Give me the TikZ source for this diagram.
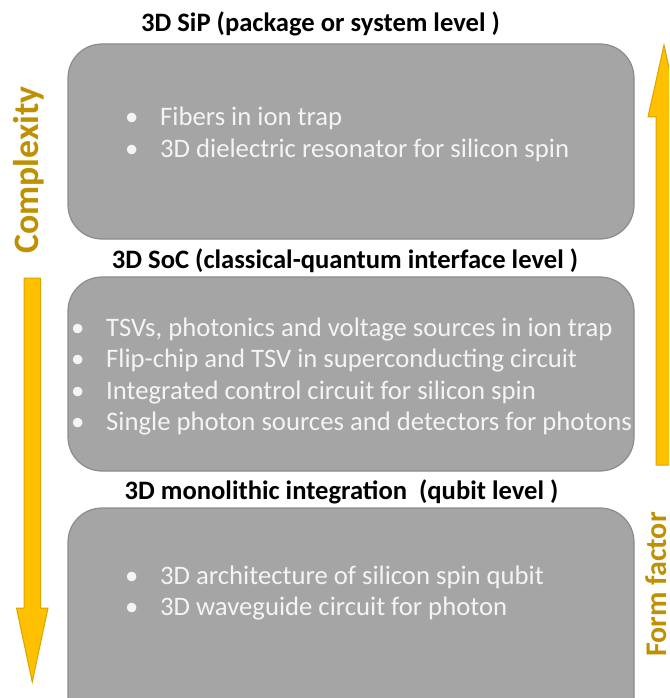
\documentclass[tikz,border=0pt]{standalone}
\usepackage{fontspec}
\setmainfont{Carlito}
\definecolor{panelfill}{HTML}{A5A5A5}
\definecolor{paneledge}{HTML}{8C8C8C}
\definecolor{itemtext}{HTML}{F4F4F4}
\definecolor{arrowfill}{HTML}{FFC000}
\definecolor{arrowedge}{HTML}{D9A400}
\definecolor{axisgold}{HTML}{BF9000}
\tikzset{
  panel/.style={draw=paneledge, fill=panelfill, line width=1.2pt,
    rounded corners=34pt, minimum width=566pt, inner sep=0pt},
  level/.style={font=\fontsize{26.6}{31}\selectfont\bfseries, anchor=base, inner sep=0pt},
  item/.style={font=\fontsize{26.7}{31}\selectfont, text=itemtext, anchor=base west, inner sep=0pt},
  axis/.style={font=\bfseries, text=axisgold, rotate=90, inner sep=0pt},
  bigarrow/.style={fill=arrowfill, draw=arrowedge, line width=1pt, line join=miter},
}
\begin{document}
\begin{tikzpicture}[x=1pt,y=-1pt]
\useasboundingbox (0,0) rectangle (669,698);
\clip (0,0) rectangle (669,698);

% the three integration levels
\node[panel, minimum height=195pt] (sip) at (351,141.5) {};
\node[panel, minimum height=194pt] (soc) at (351,374) {};
\node[panel, minimum height=236pt] (mono) at (351,626) {};

\node[level] (sipT) at (320.5,32) {3D SiP (package or system level )};
\node[level] (socT) at (345,268) {3D SoC (classical-quantum interface level )};
\node[level] (monoT) at (341.5,499) {3D monolithic integration\ \ (qubit level )};

% package / system level
\node[item] (b11) at (125,125.5) {•};
\node[item] (t11) at (160,125.5) {Fibers in ion trap};
\node[item] (b12) at (125,157.5) {•};
\node[item] (t12) at (160,157.5) {3D dielectric resonator for silicon spin};

% classical-quantum interface level
\node[item] (b21) at (71,336) {•};
\node[item] (t21) at (106,336) {TSVs, photonics and voltage sources in ion trap};
\node[item] (b22) at (71,367.5) {•};
\node[item] (t22) at (106,367.5) {Flip-chip and TSV in superconducting circuit};
\node[item] (b23) at (71,399) {•};
\node[item] (t23) at (106,399) {Integrated control circuit for silicon spin};
\node[item] (b24) at (71,430.5) {•};
\node[item] (t24) at (106,430.5) {Single photon sources and detectors for photons};

% qubit level
\node[item] (b31) at (125,584) {•};
\node[item] (t31) at (160,584) {3D architecture of silicon spin qubit};
\node[item] (b32) at (125,615) {•};
\node[item] (t32) at (160,615) {3D waveguide circuit for photon};

% complexity grows downwards
\node[axis, font=\fontsize{35.8}{40}\selectfont\bfseries] (cx) at (29,170) {Complexity};
\draw[bigarrow] (24,278) -- (40.5,278) -- (40.5,608) -- (48,608) -- (32.25,682)
  -- (16.5,608) -- (24,608) -- cycle;

% form factor grows upwards
\node[axis, font=\fontsize{30}{34}\selectfont\bfseries, anchor=base east] (ff)
  at (666,512) {Form factor};
\draw[bigarrow] (656,465) -- (656,117) -- (648,117) -- (664,45) -- (680,117)
  -- (672,117) -- (672,465) -- cycle;
\end{tikzpicture}
\end{document}
